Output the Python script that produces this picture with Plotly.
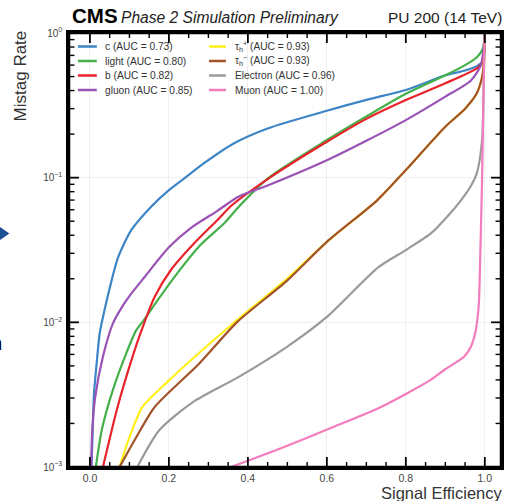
import plotly.graph_objects as go

# ---------------- data ----------------
names = ["c (AUC = 0.73)", "light (AUC = 0.80)", "b (AUC = 0.82)", "gluon (AUC = 0.85)",
         "τ<sub>h</sub><sup>+</sup> (AUC = 0.93)", "τ<sub>h</sub><sup>−</sup> (AUC = 0.93)",
         "Electron (AUC = 0.96)", "Muon (AUC = 1.00)"]
colors = ["#3d85c6", "#45b04a", "#e8232a", "#9a52b4", "#fff01a", "#a3532a", "#9a9a9a", "#f27cbc"]

c_x = [0.004, 0.007, 0.010, 0.017, 0.025, 0.038, 0.05, 0.071, 0.105, 0.155, 0.20, 0.239, 0.289, 0.365, 0.45, 0.6, 0.7, 0.8, 0.9, 0.95, 0.98, 0.995, 1.0]
c_y = [0.001, 0.0018, 0.0031, 0.0052, 0.0085, 0.0125, 0.0172, 0.028, 0.0435, 0.063, 0.082, 0.099, 0.126, 0.173, 0.219, 0.29, 0.345, 0.404, 0.51, 0.55, 0.59, 0.64, 1.0]

light_x = [0.015, 0.03, 0.058, 0.093, 0.117, 0.138, 0.172, 0.222, 0.281, 0.34, 0.377, 0.453, 0.6, 0.7, 0.8, 0.9, 0.95, 0.98, 0.995, 1.0]
light_y = [0.001, 0.0018, 0.0034, 0.0062, 0.0088, 0.0105, 0.0143, 0.022, 0.0345, 0.0484, 0.063, 0.10, 0.182, 0.265, 0.38, 0.51, 0.60, 0.68, 0.78, 1.0]

b_x = [0.033, 0.07, 0.108, 0.132, 0.164, 0.205, 0.264, 0.323, 0.36, 0.453, 0.6, 0.7, 0.8, 0.9, 0.98, 0.995, 1.0]
b_y = [0.001, 0.0026, 0.0058, 0.009, 0.015, 0.023, 0.0352, 0.051, 0.0647, 0.099, 0.177, 0.255, 0.344, 0.449, 0.57, 0.63, 1.0]

g_x = [0.003, 0.006, 0.013, 0.033, 0.058, 0.083, 0.10, 0.138, 0.20, 0.256, 0.323, 0.377, 0.453, 0.6, 0.7, 0.8, 0.9, 0.965, 0.99, 1.0]
g_y = [0.001, 0.0018, 0.003, 0.0058, 0.0098, 0.013, 0.0152, 0.0205, 0.033, 0.045, 0.059, 0.074, 0.089, 0.132, 0.18, 0.25, 0.363, 0.47, 0.60, 1.0]

taup_x = [0.075, 0.10, 0.133, 0.193, 0.26, 0.36, 0.495, 0.6, 0.728, 0.8, 0.9, 0.95, 0.98, 0.995, 1.0]
taup_y = [0.001, 0.0016, 0.0026, 0.0038, 0.0056, 0.0097, 0.0196, 0.036, 0.070, 0.113, 0.225, 0.30, 0.385, 0.53, 1.0]

taum_x = [0.075, 0.117, 0.164, 0.277, 0.372, 0.5, 0.6, 0.728, 0.8, 0.9, 0.95, 0.98, 0.995, 1.0]
taum_y = [0.001, 0.0016, 0.0026, 0.0052, 0.010, 0.0195, 0.036, 0.070, 0.113, 0.225, 0.30, 0.385, 0.53, 1.0]

e_x = [0.12, 0.176, 0.26, 0.377, 0.5, 0.6, 0.73, 0.8, 0.865, 0.913, 0.94, 0.965, 0.98, 0.993, 0.997, 1.0]
e_y = [0.001, 0.0018, 0.0028, 0.0042, 0.0068, 0.0109, 0.024, 0.0316, 0.0415, 0.057, 0.07, 0.088, 0.108, 0.18, 0.42, 1.0]

mu_x = [0.357, 0.487, 0.61, 0.737, 0.863, 0.898, 0.948, 0.965, 0.976, 0.981, 0.985, 0.989, 0.993, 0.995, 0.998, 1.0]
mu_y = [0.001, 0.00136, 0.00186, 0.0026, 0.004, 0.0047, 0.0058, 0.0068, 0.0085, 0.0104, 0.0136, 0.033, 0.096, 0.2, 0.6, 1.0]

xs = [c_x, light_x, b_x, g_x, taup_x, taum_x, e_x, mu_x]
ys = [c_y, light_y, b_y, g_y, taup_y, taum_y, e_y, mu_y]

x_tickvals = [0.0, 0.2, 0.4, 0.6, 0.8, 1.0]
x_ticktext = ["0.0", "0.2", "0.4", "0.6", "0.8", "1.0"]
x_minor = [round(0.05 * k, 2) for k in range(0, 21) if k % 4 != 0]
y_tickvals = [1e-3, 1e-2, 1e-1, 1e0]
y_ticktext = ["10<sup>−3</sup>", "10<sup>−2</sup>", "10<sup>−1</sup>", "10<sup>0</sup>"]
y_minor = [m * 10.0 ** e for e in (-3, -2, -1) for m in range(2, 10)]

X_RANGE = [-0.053, 1.041]
Y_RANGE = [-3, 0]

# ---------------- layout geometry ----------------
W, H = 509, 501
L, R, T, B = 69, 5, 33, 34
PW, PH = W - L - R, H - T - B
FONT = "Liberation Sans, Arial"


def px(xp):
    return (xp - L) / PW


def py(yp):
    return (H - B - yp) / PH


fig = go.Figure()
for xv, yv, nm, col in zip(xs, ys, names, colors):
    fig.add_trace(go.Scatter(x=xv, y=yv, mode="lines", name=nm,
                             line=dict(color=col, width=2.2, shape="spline", smoothing=0.7),
                             showlegend=False))

axis_common = dict(showline=True, linecolor="black", linewidth=2.5, mirror=True, ticks="",
                   showgrid=True, gridcolor="#efefef", gridwidth=1, zeroline=False)

fig.update_layout(
    xaxis=dict(range=X_RANGE, tickmode="array", tickvals=x_tickvals, ticktext=x_ticktext,
               tickfont=dict(size=10.5, color="#444", family=FONT), ticklabelstandoff=0, **axis_common),
    yaxis=dict(type="log", range=Y_RANGE, tickmode="array", tickvals=y_tickvals, ticktext=y_ticktext,
               tickfont=dict(size=10, color="#444", family=FONT), ticklabelstandoff=2, **axis_common),
)

shapes = []
# inside tick marks on all four sides, placed on the axes' own scales
for vals, ln, wd in ((x_tickvals, 10, 1.8), (x_minor, 5, 1.4)):
    h = ln / PH
    for v in vals:
        for a0, a1 in ((0, h), (1, 1 - h)):
            shapes.append(dict(type="line", xref="x", yref="paper", x0=v, x1=v, y0=a0, y1=a1,
                               line=dict(color="black", width=wd)))
for vals, ln, wd in ((y_tickvals[1:-1], 10, 1.8), (y_minor, 5.5, 1.4)):
    w = ln / PW
    for v in vals:
        for a0, a1 in ((0, w), (1, 1 - w)):
            shapes.append(dict(type="line", yref="y", xref="paper", y0=v, y1=v, x0=a0, x1=a1,
                               line=dict(color="black", width=wd)))
# frame
shapes.append(dict(type="rect", xref="paper", yref="paper", x0=0, x1=1, y0=0, y1=1,
                   line=dict(color="black", width=2.5)))

ann = []
# custom legend (two columns)
rows = [46.5, 61, 75.5, 90]
for i, (nm, col) in enumerate(zip(names, colors)):
    colx = i // 4
    r = rows[i % 4]
    x0, x1, xt = (78, 97, 103) if colx == 0 else (210, 227, 234)
    shapes.append(dict(type="line", xref="paper", yref="paper", x0=px(x0), x1=px(x1),
                       y0=py(r), y1=py(r), line=dict(color=col, width=2.5)))
    ann.append(dict(xref="paper", yref="paper", x=px(xt), y=py(r), text=nm, showarrow=False,
                    xanchor="left", yanchor="middle",
                    font=dict(size=10.2, color="#333", family=FONT)))

# header
ann.append(dict(xref="paper", yref="paper", x=px(70), y=py(25), text="<b>CMS</b>", showarrow=False,
                xanchor="left", yanchor="bottom", yshift=-4,
                font=dict(size=20.5, color="black", family=FONT)))
ann.append(dict(xref="paper", yref="paper", x=px(119.5), y=py(25), text="<i>Phase 2 Simulation Preliminary</i>",
                showarrow=False, xanchor="left", yanchor="bottom", yshift=-3,
                font=dict(size=15.6, color="#222", family=FONT)))
ann.append(dict(xref="paper", yref="paper", x=px(507), y=py(25), text="PU 200 (14 TeV)",
                showarrow=False, xanchor="right", yanchor="bottom", yshift=-3,
                font=dict(size=15.5, color="#222", family=FONT)))
# axis titles
ann.append(dict(xref="paper", yref="paper", x=px(507), y=py(483), text="Signal Efficiency",
                showarrow=False, xanchor="right", yanchor="top", borderpad=0,
                font=dict(size=16.5, color="#333", family=FONT)))
ann.append(dict(xref="paper", yref="paper", x=px(10), y=py(29), text="Mistag Rate",
                showarrow=False, xanchor="left", yanchor="top", textangle=-90, borderpad=0,
                font=dict(size=17, color="#333", family=FONT)))
# slide fragments at the left edge
shapes.append(dict(type="path", xref="paper", yref="paper",
                   path=f"M {px(-2)} {py(226)} L {px(9)} {py(233.5)} L {px(-2)} {py(241)} Z",
                   fillcolor="#1f4f94", line=dict(width=0)))
ann.append(dict(xref="paper", yref="paper", x=px(4), y=py(343), text="<b>n</b>", showarrow=False,
                xanchor="right", yanchor="middle",
                font=dict(size=20, color="black", family=FONT)))

fig.update_layout(width=W, height=H, margin=dict(l=L, r=R, t=T, b=B, pad=0),
                  paper_bgcolor="white", plot_bgcolor="white",
                  annotations=ann, shapes=shapes, showlegend=False)

fig.write_html("out.html")
